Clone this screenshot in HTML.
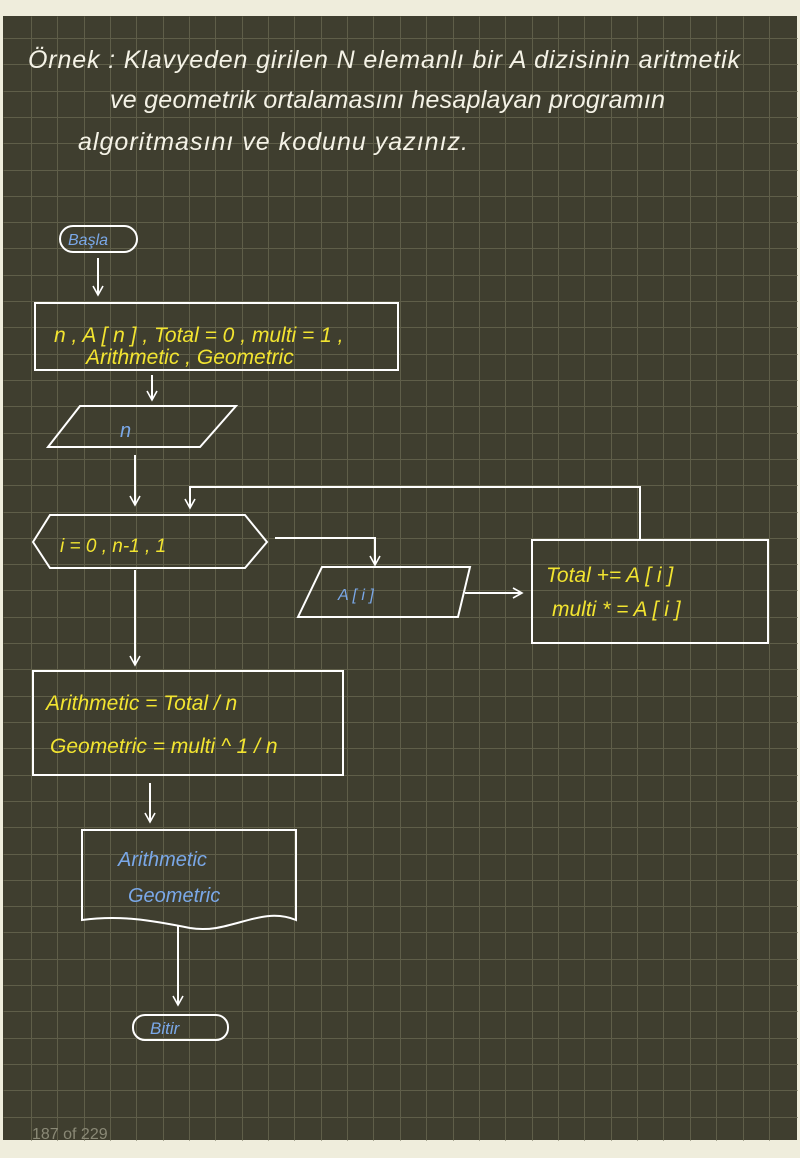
<!DOCTYPE html>
<html><head><meta charset="utf-8"><style>
html,body{margin:0;padding:0;background:#efeddc;}
svg{display:block}
text{font-family:"Liberation Sans",sans-serif;font-style:italic}
</style></head><body>
<svg width="800" height="1158" viewBox="0 0 800 1158" xmlns="http://www.w3.org/2000/svg">
<defs>
<marker id="a" viewBox="0 0 12 12" refX="10" refY="6" markerWidth="12" markerHeight="12" markerUnits="userSpaceOnUse" orient="auto">
<path d="M1 1L10 6L1 11" fill="none" stroke="#fff" stroke-width="1.6"/>
</marker>
</defs>
<rect x="3" y="16" width="794" height="1124" fill="#3f3e2f"/>
<g stroke="#5f5e49" stroke-width="1" transform="translate(0.5,0.5)">
<path d="M31 16V1140M57 16V1140M84 16V1140M110 16V1140M136 16V1140M163 16V1140M189 16V1140M215 16V1140M242 16V1140M268 16V1140M294 16V1140M321 16V1140M347 16V1140M373 16V1140M400 16V1140M426 16V1140M453 16V1140M479 16V1140M505 16V1140M532 16V1140M558 16V1140M584 16V1140M611 16V1140M637 16V1140M663 16V1140M690 16V1140M716 16V1140M743 16V1140M769 16V1140"/>
<path d="M3 38H797M3 64H797M3 91H797M3 117H797M3 143H797M3 170H797M3 196H797M3 222H797M3 248H797M3 275H797M3 301H797M3 327H797M3 354H797M3 380H797M3 406H797M3 433H797M3 459H797M3 485H797M3 512H797M3 538H797M3 564H797M3 590H797M3 617H797M3 643H797M3 669H797M3 696H797M3 722H797M3 748H797M3 775H797M3 801H797M3 827H797M3 854H797M3 880H797M3 906H797M3 932H797M3 959H797M3 985H797M3 1011H797M3 1038H797M3 1064H797M3 1090H797M3 1117H797"/>
</g>
<g fill="#f4f2e6" font-size="25">
<text x="28" y="68" textLength="712" lengthAdjust="spacing">Örnek : Klavyeden girilen N elemanlı bir A dizisinin aritmetik</text>
<text x="110" y="108" textLength="555" lengthAdjust="spacing">ve geometrik ortalamasını hesaplayan programın</text>
<text x="78" y="150" textLength="390" lengthAdjust="spacing">algoritmasını ve kodunu yazınız.</text>
</g>
<g fill="none" stroke="#fff" stroke-width="2">
<rect x="60" y="226" width="77" height="26" rx="13"/>
<path d="M98 258V295" marker-end="url(#a)"/>
<rect x="35" y="303" width="363" height="67"/>
<path d="M152 375V400" marker-end="url(#a)"/>
<path d="M48 447L80 406H236L200 447Z"/>
<path d="M135 455V505" marker-end="url(#a)"/>
<path d="M33 542L50 515H245L267 542L245 568H50Z"/>
<path d="M275 538H375V565" marker-end="url(#a)"/>
<path d="M298 617L322 567H470L458 617Z"/>
<path d="M465 593H522" marker-end="url(#a)"/>
<rect x="532" y="540" width="236" height="103"/>
<path d="M640 540V487H190V508" marker-end="url(#a)"/>
<path d="M135 570V665" marker-end="url(#a)"/>
<rect x="33" y="671" width="310" height="104"/>
<path d="M150 783V822" marker-end="url(#a)"/>
<path d="M82 920V830H296V920C260 905 230 935 190 928C150 920 120 915 82 920Z"/>
<path d="M178 925V1005" marker-end="url(#a)"/>
<rect x="133" y="1015" width="95" height="25" rx="12"/>
</g>
<g fill="#7aa8e8" font-size="16">
<text x="68" y="245">Başla</text>
<text x="120" y="437" font-size="20">n</text>
<text x="338" y="600">A [ i ]</text>
<text x="118" y="866" font-size="20">Arithmetic</text>
<text x="128" y="902" font-size="20">Geometric</text>
<text x="150" y="1034" font-size="17">Bitir</text>
</g>
<g fill="#f2e430" font-size="21">
<text x="54" y="342">n , A [ n ] , Total = 0 , multi = 1 ,</text>
<text x="86" y="364">Arithmetic , Geometric</text>
<text x="60" y="552" font-size="19">i = 0 , n-1 , 1</text>
<text x="546" y="582">Total += A [ i ]</text>
<text x="552" y="616">multi * = A [ i ]</text>
<text x="46" y="710">Arithmetic = Total / n</text>
<text x="50" y="753">Geometric = multi ^ 1 / n</text>
</g>
<text x="32" y="1139" fill="#8a8976" font-size="16" style="font-style:normal">187 of 229</text>
</svg>
</body></html>
